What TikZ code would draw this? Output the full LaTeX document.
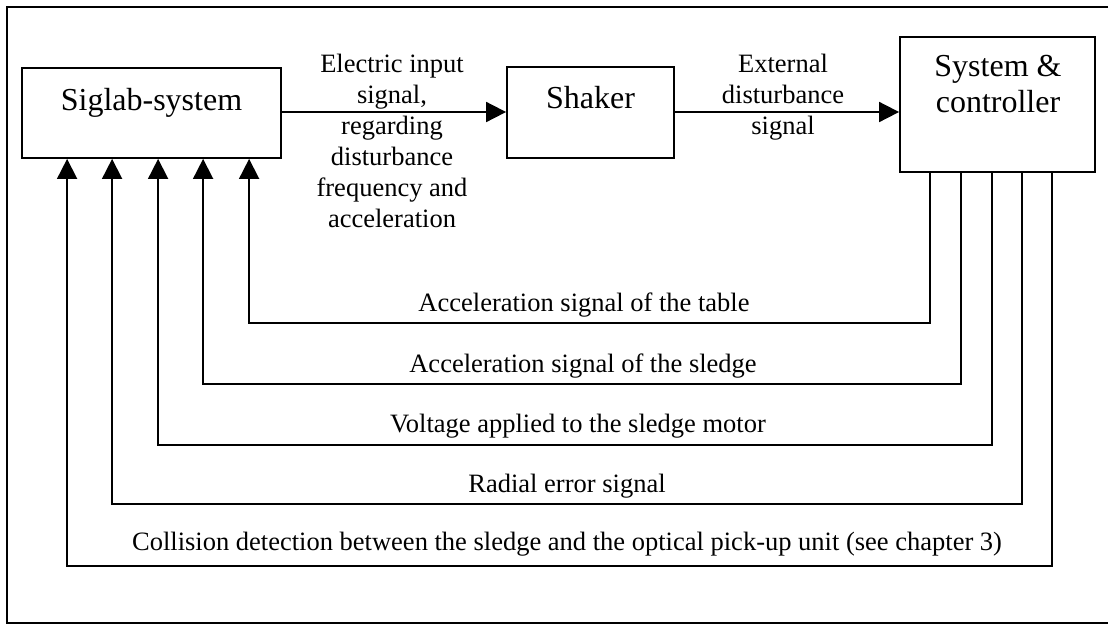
\documentclass[tikz,border=0pt]{standalone}
\usepackage{fontspec}
\setmainfont{Liberation Serif}
\usetikzlibrary{arrows.meta}
\tikzset{
  blk/.style={draw, line width=1.8pt, inner sep=0pt},
  boxtext/.style={inner sep=0pt, font=\fontsize{32}{36}\selectfont, align=center},
  lbl/.style={inner sep=0pt, font=\fontsize{26.5}{31}\selectfont, align=center},
  arr/.style={line width=1.8pt, -{Triangle[length=20pt,width=20pt]}},
  wire/.style={line width=1.8pt},
}
\begin{document}
\begin{tikzpicture}[x=1pt,y=-1pt]
\useasboundingbox (0,0) rectangle (1110,625);
% outer frame (right side lies outside the picture)
\coordinate (f1) at (1108,7);
\coordinate (f2) at (7,7);
\coordinate (f3) at (7,623);
\coordinate (f4) at (1108,623);
\draw[wire] (f1) -- (f2) -- (f3) -- (f4);
% boxes
\node[blk, minimum width=259pt, minimum height=90pt] (sig) at (151.5,113) {};
\node[blk, minimum width=167pt, minimum height=91pt] (shk) at (590.5,112.5) {};
\node[blk, minimum width=195pt, minimum height=135pt] (sys) at (997.5,104.5) {};
\node[boxtext, anchor=base] (sigt) at (151.5,110) {Siglab-system};
\node[boxtext, anchor=base] (shkt) at (590.5,108) {Shaker};
\node[boxtext, anchor=north] (syst) at (998,55) {System \&\\controller};
% forward arrows
\draw[arr] (sig.east |- 0,112) -- (shk.west |- 0,112);
\draw[arr] (shk.east |- 0,112) -- (sys.west |- 0,112);
\node[lbl, anchor=north] (l1) at (392,54) {Electric input\\signal,\\regarding\\disturbance\\frequency and\\acceleration};
\node[lbl, anchor=north] (l2) at (783,54) {External\\disturbance\\signal};
% feedback lines
\draw[arr] ([xshift=31pt]sys.south west) -- ++(0,150) -| ([xshift=228pt]sig.south west);
\draw[arr] ([xshift=62pt]sys.south west) -- ++(0,211) -| ([xshift=182pt]sig.south west);
\draw[arr] ([xshift=93pt]sys.south west) -- ++(0,272) -| ([xshift=137pt]sig.south west);
\draw[arr] ([xshift=123pt]sys.south west) -- ++(0,331) -| ([xshift=91pt]sig.south west);
\draw[arr] ([xshift=153pt]sys.south west) -- ++(0,393) -| ([xshift=46pt]sig.south west);
\node[lbl, anchor=base] (t1) at (584,311) {Acceleration signal of the table};
\node[lbl, anchor=base] (t2) at (583,372) {Acceleration signal of the sledge};
\node[lbl, anchor=base] (t3) at (578,432) {Voltage applied to the sledge motor};
\node[lbl, anchor=base] (t4) at (567,492) {Radial error signal};
\node[lbl, anchor=base] (t5) at (567,550) {Collision detection between the sledge and the optical pick-up unit (see chapter 3)};
\end{tikzpicture}
\end{document}
